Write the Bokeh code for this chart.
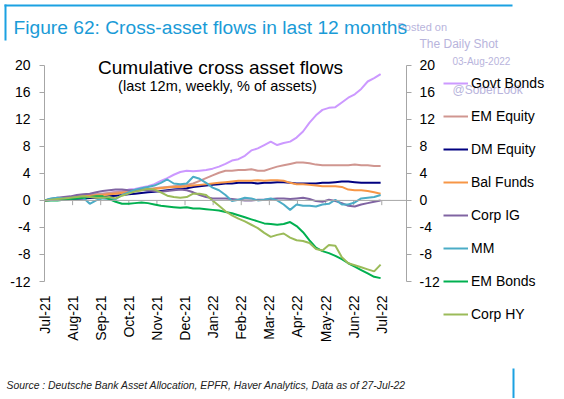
import numpy as np
from bokeh.plotting import figure
from bokeh.layouts import column, row
from bokeh.models import (Range1d, LinearAxis, FixedTicker, Label, Legend,
                          LegendItem, Span, BoxAnnotation)
from bokeh.embed import file_html
from bokeh.resources import INLINE

# ---------------- data ----------------
month_labels = ["Jul-21", "Aug-21", "Sep-21", "Oct-21", "Nov-21", "Dec-21",
                "Jan-22", "Feb-22", "Mar-22", "Apr-22", "May-22", "Jun-22", "Jul-22"]
y_ticks = [-12, -8, -4, 0, 4, 8, 12, 16, 20]
series_names = ["Govt Bonds", "EM Equity", "DM Equity", "Bal Funds",
                "Corp IG", "MM", "EM Bonds", "Corp HY"]

govt_bonds = [0, 0.2, 0.3, 0.4, 0.5, 0.6, 0.7, 0.8, 0.9, 1.0,
              1.1, 1.3, 1.4, 1.6, 1.7, 1.9, 2.1, 2.4, 2.9, 3.3,
              3.8, 4.2, 4.4, 4.3, 4.4, 4.5, 4.7, 5.0, 5.4, 5.9,
              6.1, 6.6, 7.4, 7.7, 8.2, 8.7, 8.2, 8.5, 8.7, 9.3,
              10.2, 11.5, 12.6, 13.4, 13.7, 13.8, 14.5, 15.2, 15.7, 16.5,
              17.6, 18.1, 18.7]
em_equity = [0, 0.2, 0.3, 0.4, 0.5, 0.6, 0.7, 0.8, 0.9, 1.0,
             1.1, 1.2, 1.3, 1.4, 1.5, 1.6, 1.7, 1.8, 1.9, 2.0,
             2.1, 2.2, 2.3, 2.5, 2.9, 3.3, 3.7, 4.1, 4.4, 4.4,
             4.5, 4.5, 4.6, 4.4, 4.4, 4.7, 5.0, 5.2, 5.4, 5.6,
             5.6, 5.5, 5.3, 5.2, 5.2, 5.2, 5.2, 5.2, 5.3, 5.2,
             5.2, 5.1, 5.1]
dm_equity = [0, 0.05, 0.1, 0.15, 0.2, 0.25, 0.3, 0.35, 0.4, 0.5,
             0.6, 0.7, 0.8, 0.9, 1.0, 1.1, 1.2, 1.3, 1.4, 1.5,
             1.6, 1.7, 1.8, 2.0, 2.1, 2.2, 2.3, 2.4, 2.5, 2.5,
             2.6, 2.6, 2.6, 2.5, 2.6, 2.6, 2.7, 2.7, 2.6, 2.5,
             2.5, 2.5, 2.5, 2.6, 2.6, 2.7, 2.8, 2.8, 2.7, 2.6,
             2.6, 2.6, 2.6]
bal_funds = [0, 0.1, 0.2, 0.3, 0.4, 0.5, 0.6, 0.7, 0.75, 0.8,
             0.9, 1.0, 1.1, 1.2, 1.4, 1.5, 1.6, 1.7, 1.8, 1.9,
             2.0, 2.0, 2.1, 2.2, 2.3, 2.4, 2.5, 2.6, 2.7, 2.8,
             2.9, 2.9, 2.9, 3.0, 2.9, 3.0, 3.0, 2.9, 2.6, 2.4,
             2.4, 2.3, 2.2, 2.1, 2.1, 2.1, 2.0, 1.6, 1.5, 1.5,
             1.4, 1.2, 1.0]
corp_ig = [0, 0.2, 0.4, 0.5, 0.6, 0.8, 0.9, 1.0, 1.2, 1.4,
           1.5, 1.6, 1.6, 1.5, 1.5, 1.6, 1.5, 1.4, 1.3, 1.4,
           1.5, 1.6, 1.5, 1.2, 0.8, 0.5, 0.3, 0.3, 0.3, 0.2,
           0.1, 0.0, 0.0, 0.1, 0.1, 0.2, 0.3, 0.3, 0.2, 0.3,
           0.4, 0.2, -0.1, -0.2, 0.1, -0.1, -0.4, -0.8, -0.9, -0.6,
           -0.4, -0.2, 0.0]
mm = [0, 0.3, 0.4, 0.3, 0.3, 0.5, 0.4, -0.5, 0.0, 0.3,
      0.2, 0.2, 0.8, 1.2, 1.6, 1.8, 2.0, 2.2, 2.6, 3.1,
      2.5, 2.4, 2.5, 3.5, 3.2, 2.6, 1.9, 1.5, 0.8, -0.1,
      0.1, 0.4, 0.3, 0.0, 0.1, 0.3, 0.0, -0.6, -1.4, -0.6,
      -0.8, -0.8, -0.9, -0.6, -0.5, 0.1, -0.6, -0.6, -0.3, 0.3,
      0.4, 0.5, 0.8]
em_bonds = [0, 0.0, 0.0, 0.1, 0.2, 0.3, 0.4, 0.5, 0.6, 0.6,
            0.2, -0.2, -0.5, -0.5, -0.4, -0.3, -0.4, -0.6, -0.8, -0.9,
            -1.0, -1.1, -1.0, -1.2, -1.2, -1.3, -1.4, -1.5, -1.7, -1.9,
            -2.2, -2.5, -2.8, -3.1, -3.4, -3.5, -3.6, -3.5, -3.2, -3.8,
            -4.7, -5.9, -7.0, -7.5, -7.8, -8.2, -8.7, -9.3, -9.8, -10.3,
            -10.8, -11.3, -11.5]
corp_hy = [0, 0.1, 0.2, 0.3, 0.4, 0.5, 0.6, 0.5, 0.4, 0.4,
           0.5, 0.3, 0.7, 1.0, 1.3, 1.5, 1.7, 1.6, 1.2, 0.7,
           0.5, 0.4, 0.5, 1.0, 1.0, 0.8, 0.0, -0.8, -1.6, -2.2,
           -2.7, -3.1, -3.6, -4.1, -4.8, -5.4, -5.1, -4.9, -5.5, -5.9,
           -6.0, -6.3, -7.2, -7.4, -6.6, -6.7, -8.4, -9.3, -9.6, -9.9,
           -10.2, -10.5, -9.5]

series_values = [govt_bonds, em_equity, dm_equity, bal_funds,
                 corp_ig, mm, em_bonds, corp_hy]
colors = ["#CC99FF", "#D09690", "#000080", "#F79646",
          "#8064A2", "#4BACC6", "#00B050", "#9BBB59"]

# weekly observations, expressed in months since the first week
n_weeks = len(govt_bonds)
x_months = np.arange(n_weeks) * 7 / 30.4375

FONT = "Liberation Sans"
AXIS_GRAY = "#A6A6A6"
BLUE = "#1BA1E2"
WM = "#B8B4DC"
TOTAL_W = 563
LIFT = 0.33  # baseline correction, in em


def text_fig(width, height):
    """A blank figure whose data units are its own pixels (y downward)."""
    f = figure(width=width, height=height, output_backend="svg", toolbar_location=None,
               x_range=Range1d(0, width), y_range=Range1d(height, 0),
               x_axis_location=None, y_axis_location=None, min_border=0)
    f.grid.visible = False
    f.outline_line_color = None
    f.border_fill_color = "white"
    f.background_fill_color = "white"
    return f


def add_text(f, ox, oy, txt, px, py, size, color, align="left", style="normal"):
    f.add_layout(Label(x=px - ox, y=py - oy - LIFT * size, text=txt, text_align=align,
                       text_baseline="alphabetic", text_font=FONT,
                       text_font_size=f"{size}px", text_color=color,
                       text_font_style=style))


def add_box(f, ox, oy, l, r, t, b):
    f.add_layout(BoxAnnotation(left=l - ox, right=r - ox, top=t - oy, bottom=b - oy,
                               fill_color=BLUE, fill_alpha=1, line_color=None))


# ---------------- header strip (page y 0..52) ----------------
HY0 = 52
header = text_fig(TOTAL_W, HY0)
add_box(header, 0, 0, 4, 512, 4, 6)
add_box(header, 0, 0, 4, 6, 4, 40)
add_text(header, 0, 0, "Posted on", 397, 30, 11, WM)
add_text(header, 0, 0, "The Daily Shot", 419, 47, 12, WM)
add_text(header, 0, 0, "Figure 62: Cross-asset flows in last 12 months",
         13, 33, 19.2, "#1A9BD7")

# ---------------- main chart (page x 0..443, y 52..345) ----------------
MX, MY = 0, HY0
MW, MH = 443, 293
FL, FR = 44, 406      # frame left/right, page px
FT, FB = 56, 287      # frame top/bottom, page px
X0, X1 = 0, 12.88
Y0, Y1 = -12, 21.3

p = figure(width=MW, height=MH, output_backend="svg", toolbar_location=None,
           x_range=Range1d(X0, X1), y_range=Range1d(Y0, Y1),
           min_border_left=FL - MX, min_border_right=MX + MW - FR,
           min_border_top=FT - MY, min_border_bottom=MY + MH - FB)
p.grid.visible = False
p.outline_line_color = None
p.background_fill_color = "white"
p.border_fill_color = "white"


def style_y(ax):
    ax.ticker = FixedTicker(ticks=y_ticks)
    ax.major_label_overrides = {t: str(t) for t in y_ticks}
    ax.bounds = (y_ticks[0], y_ticks[-1])
    ax.axis_line_color = AXIS_GRAY
    ax.major_tick_line_color = AXIS_GRAY
    ax.major_tick_in = 0
    ax.major_tick_out = 5
    ax.minor_tick_line_color = None
    ax.major_label_text_font = FONT
    ax.major_label_text_font_size = "14px"
    ax.major_label_text_color = "#000000"
    ax.major_label_standoff = 8


style_y(p.yaxis[0])
p.yaxis[0].major_label_standoff = 9
ry = LinearAxis()
style_y(ry)
p.add_layout(ry, "right")

xa = p.xaxis[0]
xa.ticker = FixedTicker(ticks=list(range(len(month_labels))))
xa.major_label_overrides = {i: m for i, m in enumerate(month_labels)}
xa.axis_line_color = None
xa.major_tick_line_color = None
xa.minor_tick_line_color = None
xa.major_label_orientation = np.pi / 2
xa.major_label_text_font = FONT
xa.major_label_text_font_size = "14px"
xa.major_label_text_color = "#000000"
xa.major_label_standoff = 8

# zero line with month ticks
p.add_layout(Span(location=0, dimension="width", line_color=AXIS_GRAY, line_width=1))
tick_x = list(range(len(month_labels)))
p.segment(x0=tick_x, y0=[0] * len(tick_x), x1=tick_x, y1=[-0.7] * len(tick_x),
          line_color=AXIS_GRAY, line_width=1)

for name, vals, col in zip(series_names, series_values, colors):
    p.line(x_months, vals, line_color=col, line_width=2)


def mdx(px):
    return X0 + (px - FL) * (X1 - X0) / (FR - FL)


def mdy(py):
    return Y1 - (py - FT) * (Y1 - Y0) / (FB - FT)


p.add_layout(Label(x=mdx(220), y=mdy(74 - LIFT * 19), text="Cumulative cross asset flows",
                   text_align="center", text_baseline="alphabetic",
                   text_font=FONT, text_font_size="19px", text_color="#000000"))
p.add_layout(Label(x=mdx(217), y=mdy(91 - LIFT * 14.5), text="(last 12m, weekly, % of assets)",
                   text_align="center", text_baseline="alphabetic",
                   text_font=FONT, text_font_size="14.5px", text_color="#000000"))

# ---------------- legend column (page x 443..563, y 52..345) ----------------
LX = MX + MW
LW = TOTAL_W - LX
LT_H = 22                      # strip above the legend
lg_top = text_fig(LW, LT_H)
add_text(lg_top, LX, MY, "03-Aug-2022", 452, 64, 10, WM)

LY = MY + LT_H
lg = text_fig(LW, MH - LT_H)
items = []
for name, col in zip(series_names, colors):
    # off-screen sample line: only its legend key is visible
    r = lg.line(x=[-50, -40], y=[-50, -50], line_color=col, line_width=2)
    items.append(LegendItem(label=name, renderers=[r]))
legend = Legend(items=items, location="top_left", orientation="vertical",
                glyph_width=25, glyph_height=18, label_height=18, spacing=15,
                label_standoff=3, padding=2, margin=0,
                border_line_color=None, background_fill_alpha=0,
                label_text_font=FONT, label_text_font_size="14px",
                label_text_color="#000000")
lg.add_layout(legend)
add_text(lg, LX, LY, "@SoberLook", 452, 93, 12, WM)

# ---------------- source strip (page y 345..398) ----------------
SY = MY + MH
src = text_fig(TOTAL_W, 398 - SY)
add_text(src, 0, SY,
         "Source : Deutsche Bank Asset Allocation, EPFR, Haver Analytics, Data as of 27-Jul-22",
         6, 388, 10.4, "#222222", style="italic")
add_box(src, 0, SY, 512, 514, 368, 398)

layout = column(header, row(p, column(lg_top, lg)), src)
open("out.html", "w").write(file_html(layout, INLINE))
